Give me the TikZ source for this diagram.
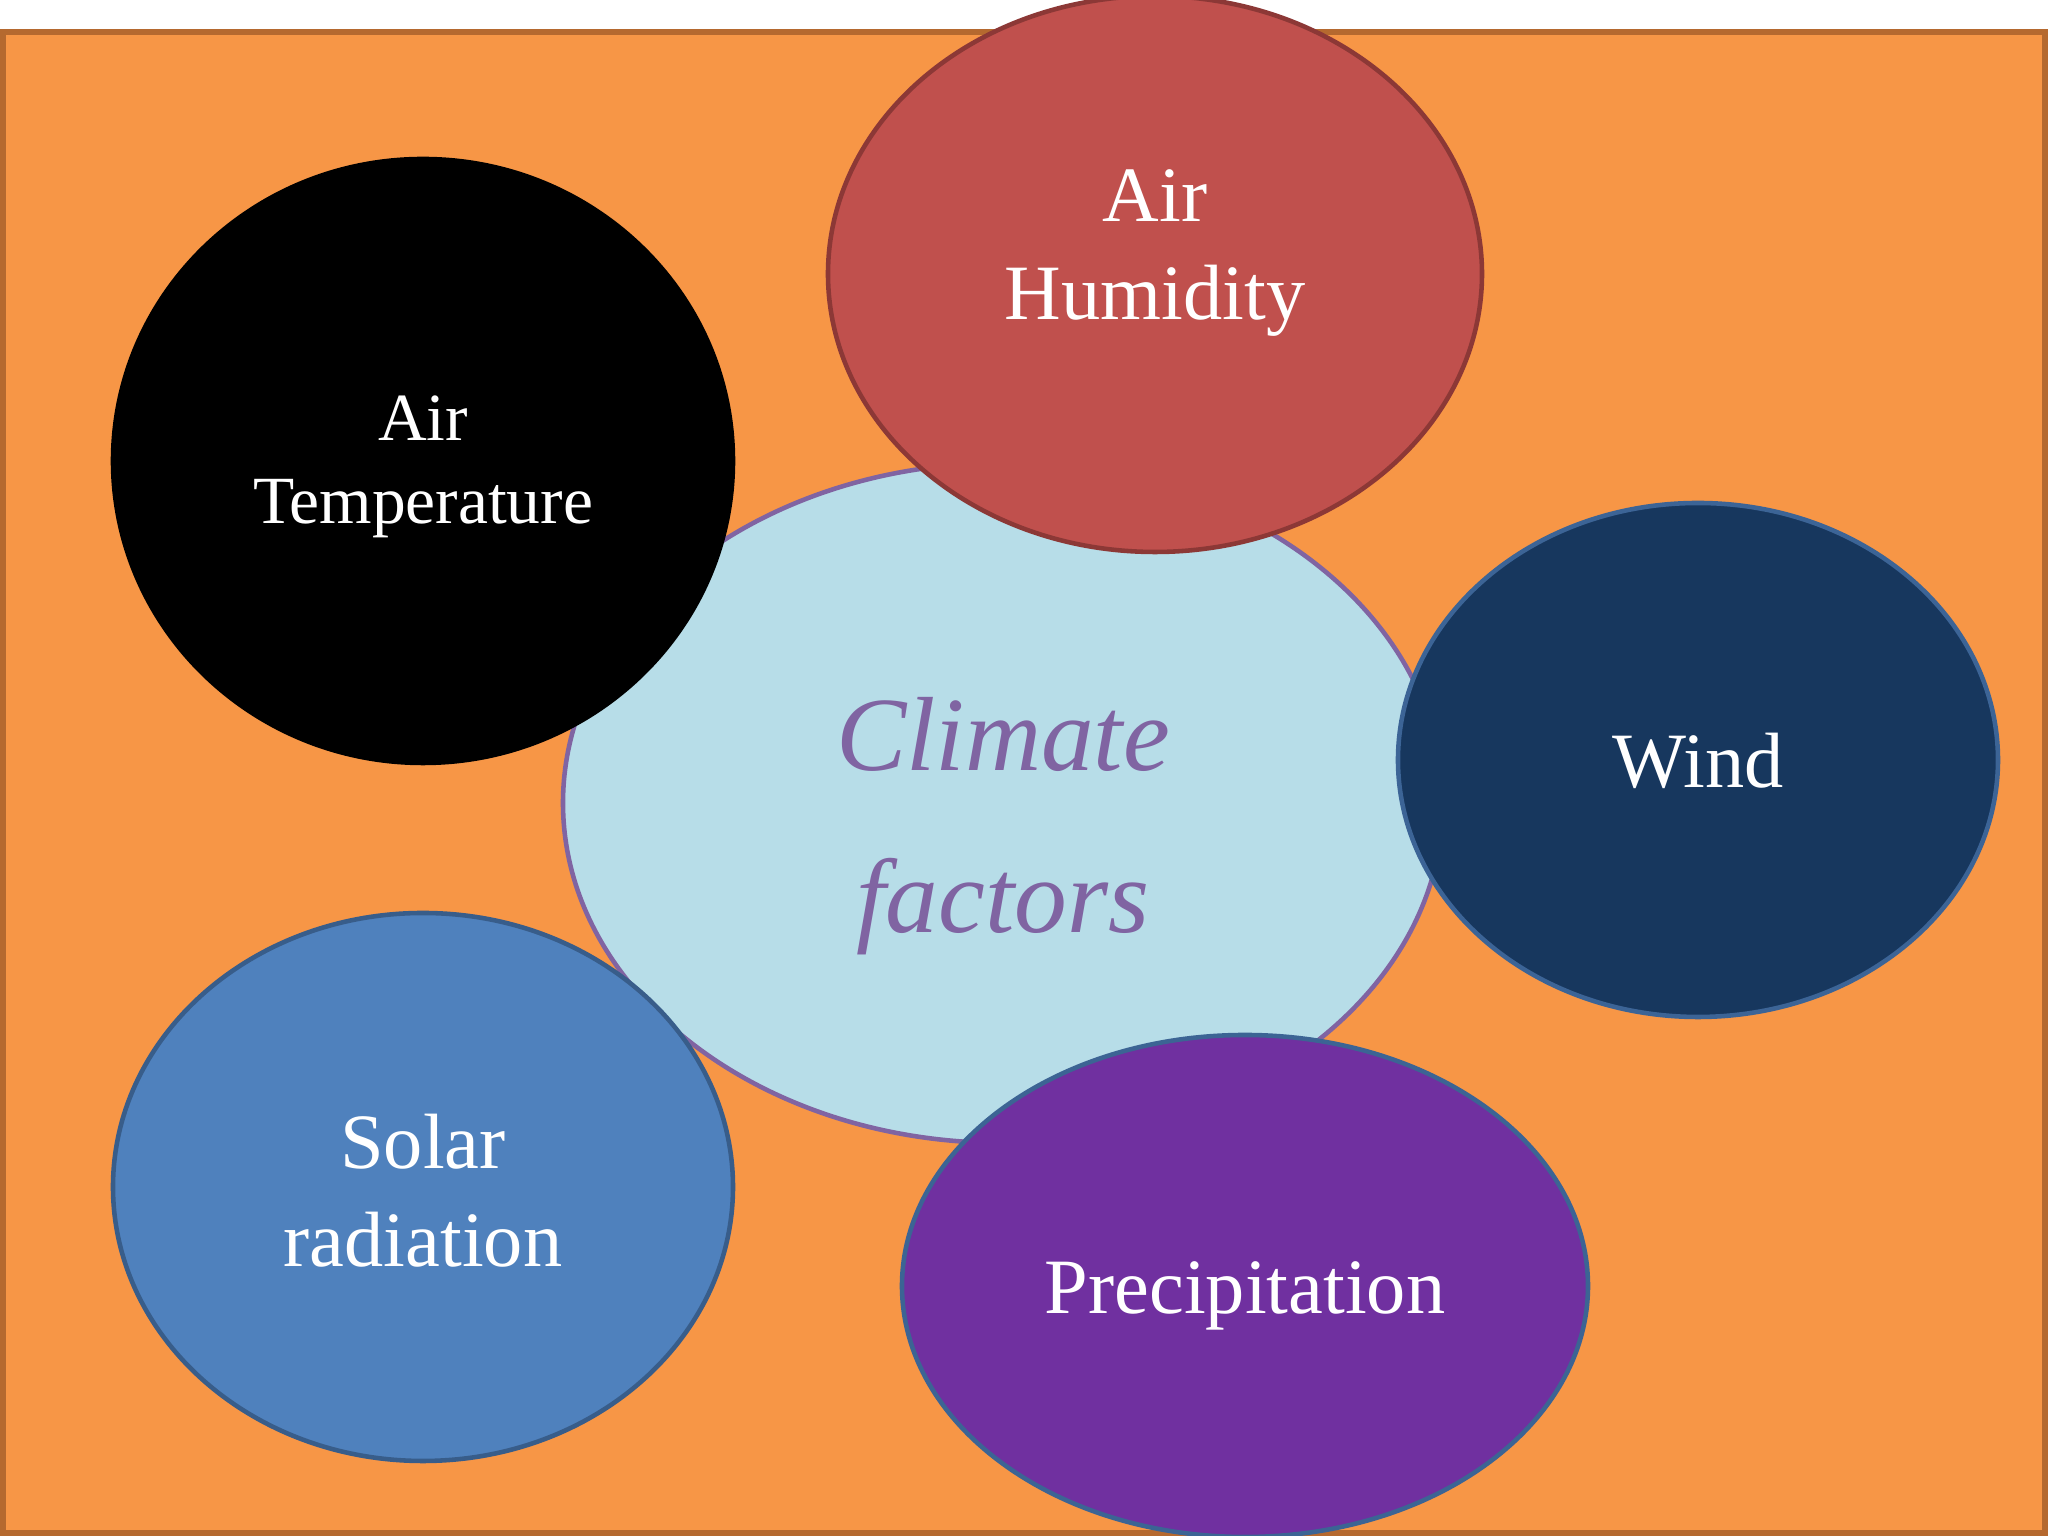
\documentclass[tikz,border=0pt]{standalone}
\usepackage{fontspec}
\setmainfont{Liberation Serif}
\usepackage{tikz}
\usetikzlibrary{shapes.geometric}

\definecolor{slide}{HTML}{F79646}
\definecolor{slideedge}{HTML}{B5692F}
\definecolor{core}{HTML}{B7DDE8}
\definecolor{coreedge}{HTML}{8064A2}
\definecolor{humid}{HTML}{C0504D}
\definecolor{humidedge}{HTML}{8C3836}
\definecolor{windfill}{HTML}{17375E}
\definecolor{windedge}{HTML}{3C6496}
\definecolor{sun}{HTML}{4F81BD}
\definecolor{sunedge}{HTML}{385D8A}
\definecolor{rain}{HTML}{7030A0}
\definecolor{rainedge}{HTML}{3C6494}

\begin{document}
\begin{tikzpicture}[bubble/.style={ellipse, draw, line width=1.3pt, inner sep=0pt},
  lbl/.style={text=white, align=center, font=\fontsize{22.3}{27.8}\selectfont}]

\useasboundingbox (0,0) rectangle (20.48,15.36);
\clip (0,0) rectangle (20.48,15.36);
\fill [white] (0,0) rectangle (20.48,15.36);
\draw [fill=slide, draw=slideedge, line width=1.5pt] (0.03,0.03) rectangle (20.45,15.04);

% the middle one first, the rest lie over it
\node [bubble, fill=core, draw=coreedge, minimum width=8.8cm, minimum height=6.8cm] (climate) at (10.03,7.33) {};
\node [text=coreedge, align=center, font=\fontsize{30}{46}\selectfont\itshape] (climatetxt) at ([yshift=-0.23cm]climate.center) {Climate\\factors};

\node [bubble, fill=black, draw=black, minimum width=6.2cm, minimum height=6.04cm] (temp) at (4.23,10.75) {};
\node [lbl, font=\fontsize{19.2}{23.5}\selectfont] (temptxt) at ([yshift=-0.06cm]temp.center) {Air\\Temperature};

\node [bubble, fill=humid, draw=humidedge, minimum width=6.54cm, minimum height=5.56cm] (humidity) at (11.55,12.62) {};
\node [lbl] (humiditytxt) at ([yshift=0.21cm]humidity.center) {Air\\Humidity};

\node [bubble, fill=windfill, draw=windedge, minimum width=6cm, minimum height=5.14cm] (wind) at (16.98,7.76) {};
\node [lbl] (windtxt) at ([yshift=-0.01cm]wind.center) {Wind};

\node [bubble, fill=sun, draw=sunedge, minimum width=6.2cm, minimum height=5.48cm] (solar) at (4.23,3.49) {};
\node [lbl] (solartxt) at ([yshift=-0.04cm]solar.center) {Solar\\radiation};

\node [bubble, fill=rain, draw=rainedge, minimum width=6.86cm, minimum height=5.02cm] (precip) at (12.45,2.50) {};
\node [lbl] (preciptxt) at ([yshift=-0.1cm]precip.center) {Precipitation};

\end{tikzpicture}
\end{document}
